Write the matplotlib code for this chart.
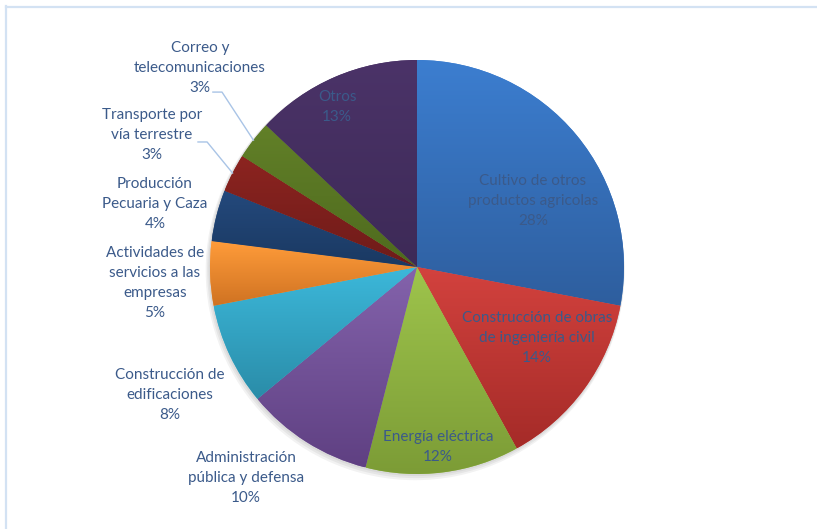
import numpy as np
import matplotlib
matplotlib.use("Agg")
import matplotlib.pyplot as plt
from matplotlib.lines import Line2D
from matplotlib.colors import to_rgb

# ---- data ----
categories = [
    "Cultivo de otros\nproductos agricolas",
    "Construcción de obras\nde ingeniería civil",
    "Energía eléctrica",
    "Administración\npública y defensa",
    "Construcción de\nedificaciones",
    "Actividades de\nservicios a las\nempresas",
    "Producción\nPecuaria y Caza",
    "Transporte por\nvía terrestre",
    "Correo y\ntelecomunicaciones",
    "Otros",
]
values = [28, 14, 12, 10, 8, 5, 4, 3, 3, 13]

# gradient colours (top, bottom) per slice
top_colors = ["#3C7ED0", "#D3423E", "#9EC44C", "#8463AC", "#3CB8DA",
              "#FF9C3A", "#24497C", "#8C2420", "#628028", "#4B3368"]
bot_colors = ["#2E5E9E", "#A52B28", "#7C9C36", "#5F4082", "#2A8CA8",
              "#CF7222", "#1A3962", "#6E1B19", "#4E6A1E", "#3D2A57"]

# label positions (data coords, pie radius = 1)
label_pos = [(0.560, 0.319), (0.580, -0.343), (0.101, -0.870),
             (-0.826, -1.019), (-1.193, -0.618), (-1.266, -0.077),
             (-1.266, 0.304), (-1.280, 0.638), (-1.048, 0.961),
             (-0.386, 0.773)]

text_color = "#3B5A8A"
leader_color = "#A9C4E6"

W, H, DPI = 817, 529, 100
fig = plt.figure(figsize=(W / DPI, H / DPI), dpi=DPI)
ax = fig.add_axes([0, 0, 1, 1])
cx, cy, R = 417, 267, 207
xlim = (-cx / R, (W - cx) / R)
ylim = ((cy - H) / R, cy / R)

# soft shadow
for i, a in enumerate([0.05, 0.05, 0.05]):
    sh = plt.Circle((-0.003 * (i + 1), -0.006 * (i + 1)), 1.0 + 0.004 * (i + 1),
                    color="#000000", alpha=a, lw=0, zorder=0)
    ax.add_patch(sh)

wedges, _ = ax.pie(values, startangle=90, counterclock=False, radius=1,
                   center=(0, 0), colors=top_colors,
                   wedgeprops=dict(linewidth=0))

for w, c1, c2 in zip(wedges, top_colors, bot_colors):
    ext = w.get_path().get_extents()
    n = 256
    t = np.linspace(0, 1, n)[:, None]
    img = (1 - t) * np.array(to_rgb(c1)) + t * np.array(to_rgb(c2))
    img = img[:, None, :]
    im = ax.imshow(img, extent=[ext.x0, ext.x1, ext.y0, ext.y1],
                   origin="upper", aspect="auto", interpolation="bilinear",
                   zorder=2)
    im.set_clip_path(w)

total = sum(values)
for cat, v, (lx, ly) in zip(categories, values, label_pos):
    pct = f"{round(100 * v / total)}%"
    ax.text(lx, ly, f"{cat}\n{pct}", ha="center", va="center",
            fontsize=11, color=text_color, family="Lato",
            linespacing=1.55, zorder=5)

# leader lines for the two small slices
cum = np.cumsum([0] + values)
def edge_point(i):
    mid = (cum[i] + cum[i + 1]) / 2 / total
    ang = np.deg2rad(90 - 360 * mid)
    return np.cos(ang), np.sin(ang)

leaders = {8: [(-0.986, 0.845), (-0.942, 0.845)],
           7: [(-1.058, 0.604), (-1.014, 0.604)]}
for i, pts in leaders.items():
    ex, ey = edge_point(i)
    xs = [p[0] for p in pts] + [ex]
    ys = [p[1] for p in pts] + [ey]
    ax.plot(xs, ys, color=leader_color, lw=1.0, zorder=4)

ax.set_xlim(*xlim)
ax.set_ylim(*ylim)
ax.set_aspect("auto")
ax.axis("off")

# frame lines (left and top)
fig.add_artist(Line2D([5.5 / W, 5.5 / W], [0, 1 - 6 / H], color="#D3E2F3",
                      lw=1.6, transform=fig.transFigure))
fig.add_artist(Line2D([5.5 / W, 1], [1 - 6.5 / H, 1 - 6.5 / H], color="#D3E2F3",
                      lw=1.6, transform=fig.transFigure))

fig.savefig("out.png", dpi=DPI)
